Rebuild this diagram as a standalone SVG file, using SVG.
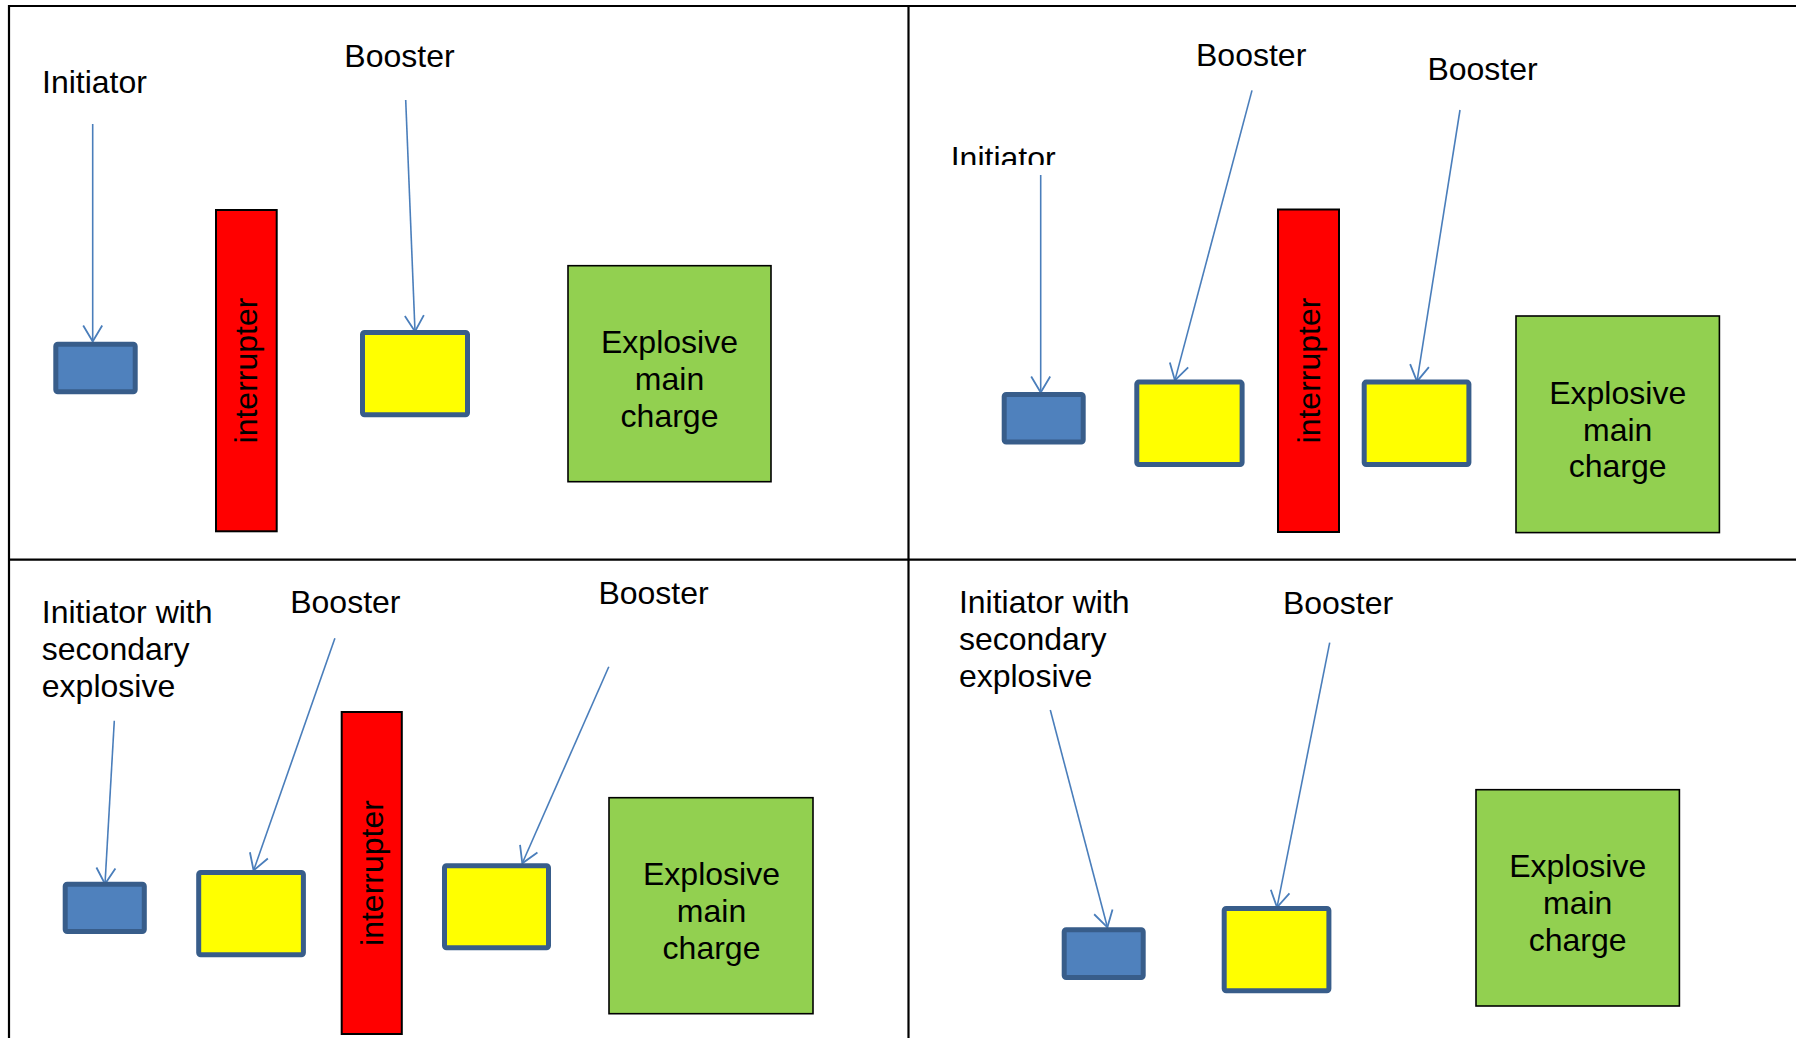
<svg xmlns="http://www.w3.org/2000/svg" width="1796" height="1038" viewBox="0 0 1796 1038">
<style>
  text { font-family: "Liberation Sans", Arial, sans-serif; font-size: 32px; fill: #000; }
  .c { text-anchor: middle; }
  .border { stroke: #000; stroke-width: 2.2; fill: none; }
  .ini { fill: #4F81BD; stroke: #385D8A; stroke-width: 5; }
  .boo { fill: #FFFF00; stroke: #385D8A; stroke-width: 5; }
  .int { fill: #FF0000; stroke: #000; stroke-width: 2; }
  .main { fill: #92D050; stroke: #000; stroke-width: 1.6; }
  .arr { stroke: #4A7EBB; stroke-width: 1.6; fill: none; marker-end: url(#open); }
</style>
<defs>
  <marker id="open" markerUnits="userSpaceOnUse" markerWidth="24" markerHeight="24" viewBox="-20 -12 24 24" refX="0" refY="0" orient="auto">
    <path d="M-16,-9.5 L0,0 L-16,9.5" fill="none" stroke="#4A7EBB" stroke-width="1.8"/>
  </marker>
  <clipPath id="clipIni">
    <rect x="930" y="120" width="150" height="45"/>
  </clipPath>
</defs>
<rect x="0" y="0" width="1796" height="1038" fill="#fff"/>

<g id="table">
  <line class="border" x1="9" y1="6" x2="1796" y2="6"/>
  <line class="border" x1="9" y1="5" x2="9" y2="1038"/>
  <line class="border" x1="908.5" y1="5" x2="908.5" y2="1038"/>
  <line class="border" x1="8" y1="559.7" x2="1796" y2="559.7"/>
</g>

<g id="connectors">
  <line class="arr" x1="92.7" y1="124" x2="92.7" y2="341.5"/>
  <line class="arr" x1="405.7" y1="100" x2="415" y2="331.5"/>
  <line class="arr" x1="1040.7" y1="175" x2="1040.7" y2="392.5"/>
  <line class="arr" x1="1252" y1="90.4" x2="1174.9" y2="380.4"/>
  <line class="arr" x1="1460" y1="110" x2="1417" y2="381.4"/>
  <line class="arr" x1="114.3" y1="720.7" x2="105" y2="884"/>
  <line class="arr" x1="334.9" y1="638.3" x2="253.6" y2="870.5"/>
  <line class="arr" x1="608.8" y1="666.7" x2="522.3" y2="863.3"/>
  <line class="arr" x1="1050.3" y1="710" x2="1107.4" y2="927.3"/>
  <line class="arr" x1="1329.7" y1="642.7" x2="1277" y2="907.3"/>
</g>

<!-- Panel top-left -->
<g id="tl-initiator-label"><text x="42" y="93">Initiator</text></g>
<g id="tl-booster-label"><text x="344.3" y="66.7">Booster</text></g>
<g id="tl-initiator"><rect class="ini" x="55.8" y="344.2" width="79.4" height="47.6" rx="2"/></g>
<g id="tl-interrupter">
  <rect class="int" x="216" y="210" width="60.7" height="321.3"/>
  <text class="c" transform="translate(257,370.5) rotate(-90)">interrupter</text>
</g>
<g id="tl-booster"><rect class="boo" x="362.5" y="332.5" width="105" height="82.3" rx="2"/></g>
<g id="tl-main">
  <rect class="main" x="568" y="265.7" width="203" height="216"/>
  <text class="c" x="669.5" y="353.3">Explosive</text>
  <text class="c" x="669.5" y="390">main</text>
  <text class="c" x="669.5" y="426.7">charge</text>
</g>

<!-- Panel top-right -->
<g id="tr-initiator-label"><text x="950.7" y="168.5" clip-path="url(#clipIni)">Initiator</text></g>
<g id="tr-booster1-label"><text x="1196" y="66.3">Booster</text></g>
<g id="tr-booster2-label"><text x="1427.4" y="79.5">Booster</text></g>
<g id="tr-initiator"><rect class="ini" x="1004.2" y="394.5" width="79" height="47.6" rx="2"/></g>
<g id="tr-booster1"><rect class="boo" x="1136.8" y="382.1" width="105.3" height="82.4" rx="2"/></g>
<g id="tr-interrupter">
  <rect class="int" x="1278" y="209.5" width="61" height="322.5"/>
  <text class="c" transform="translate(1319.5,370.5) rotate(-90)">interrupter</text>
</g>
<g id="tr-booster2"><rect class="boo" x="1364.2" y="382.1" width="104.7" height="82.4" rx="2"/></g>
<g id="tr-main">
  <rect class="main" x="1516" y="316" width="203.4" height="216.6"/>
  <text class="c" x="1617.7" y="403.9">Explosive</text>
  <text class="c" x="1617.7" y="440.6">main</text>
  <text class="c" x="1617.7" y="477.3">charge</text>
</g>

<!-- Panel bottom-left -->
<g id="bl-initiator-label">
  <text x="41.8" y="623.3">Initiator with</text>
  <text x="41.8" y="660">secondary</text>
  <text x="41.8" y="696.7">explosive</text>
</g>
<g id="bl-booster1-label"><text x="290.2" y="612.7">Booster</text></g>
<g id="bl-booster2-label"><text x="598.4" y="604.3">Booster</text></g>
<g id="bl-initiator"><rect class="ini" x="65.2" y="884.2" width="79.1" height="47.3" rx="2"/></g>
<g id="bl-booster1"><rect class="boo" x="198.7" y="872.5" width="104.7" height="82.3" rx="2"/></g>
<g id="bl-interrupter">
  <rect class="int" x="341.7" y="712" width="60.1" height="322"/>
  <text class="c" transform="translate(383,873) rotate(-90)">interrupter</text>
</g>
<g id="bl-booster2"><rect class="boo" x="444.5" y="865.7" width="104" height="82" rx="2"/></g>
<g id="bl-main">
  <rect class="main" x="609" y="797.7" width="204" height="216"/>
  <text class="c" x="711.5" y="885.3">Explosive</text>
  <text class="c" x="711.5" y="922">main</text>
  <text class="c" x="711.5" y="958.7">charge</text>
</g>

<!-- Panel bottom-right -->
<g id="br-initiator-label">
  <text x="958.9" y="613.3">Initiator with</text>
  <text x="958.9" y="650">secondary</text>
  <text x="958.9" y="686.7">explosive</text>
</g>
<g id="br-booster-label"><text x="1282.9" y="614.3">Booster</text></g>
<g id="br-initiator"><rect class="ini" x="1064.2" y="929.8" width="79" height="47.7" rx="2"/></g>
<g id="br-booster"><rect class="boo" x="1224.2" y="908.5" width="104.7" height="82.3" rx="2"/></g>
<g id="br-main">
  <rect class="main" x="1476" y="789.7" width="203.4" height="216.3"/>
  <text class="c" x="1577.7" y="877.4">Explosive</text>
  <text class="c" x="1577.7" y="914.1">main</text>
  <text class="c" x="1577.7" y="950.8">charge</text>
</g>
</svg>
